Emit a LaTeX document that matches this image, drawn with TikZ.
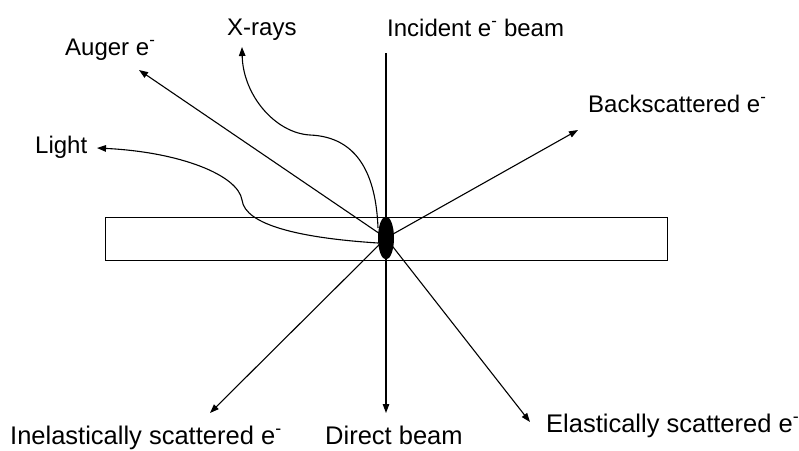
\documentclass[tikz,border=0pt]{standalone}
\usepackage{fontspec}
\setmainfont{Liberation Sans}
\usetikzlibrary{arrows.meta,shapes.geometric}
\begin{document}
\begin{tikzpicture}[x=1pt,y=-1pt,
  ray/.style={line width=1.1pt,-{Triangle[length=9pt,width=6.5pt]}},
  lbl/.style={anchor=base west,inner sep=0pt,font=\fontsize{24}{28}\selectfont},
  blbl/.style={anchor=base west,inner sep=0pt,font=\fontsize{25.5}{29}\selectfont},
  sample/.style={draw,line width=1pt,minimum width=562pt,minimum height=43pt,inner sep=0pt},
  spotst/.style={ellipse,fill=black,minimum width=16pt,minimum height=43pt,inner sep=0pt}]
\useasboundingbox (0,0) rectangle (799,450);
\node[sample] (slab) at (386,238.5) {};
\coordinate (c) at (386,238);
\coordinate (inc) at (386,53);
\coordinate (tdir) at (386,413);
\coordinate (tinel) at (210,413);
\coordinate (tel) at (530,422);
\coordinate (tback) at (578,130);
\coordinate (taug) at (139,70);
\coordinate (txr) at (242,47);
\coordinate (tlight) at (97,148);
\coordinate (sxr) at (378,228);
\coordinate (slight) at (378,243);
% labels
\node[lbl] (laug) at (65,55) {Auger e\textsuperscript{-}};
\node[lbl] (lxr) at (227,35) {X-rays};
\node[lbl] (linc) at (387,36) {Incident e\textsuperscript{-} beam};
\node[lbl] (lback) at (588,112) {Backscattered e\textsuperscript{-}};
\node[lbl] (llight) at (35,153) {Light};
\node[blbl] (linel) at (10,444) {Inelastically scattered e\textsuperscript{-}};
\node[blbl] (ldir) at (325,444) {Direct beam};
\node[blbl] (lel) at (546,432) {Elastically scattered e\textsuperscript{-}};
% rays
\draw[ray] (inc) -- (tdir);
\draw[ray] (c) -- (tinel);
\draw[ray] (c) -- (tel);
\draw[ray] (c) -- (tback);
\draw[ray] (c) -- (taug);
\draw[ray] (sxr) .. controls (376,175) and (358,137) .. (310,135)
                 .. controls (275,133) and (243,95) .. (txr);
\draw[ray] (slight) .. controls (300,238) and (245,225) .. (242,200)
                    .. controls (238,175) and (180,152) .. (tlight);
\node[spotst] (spot) at (c) {};
\end{tikzpicture}
\end{document}
